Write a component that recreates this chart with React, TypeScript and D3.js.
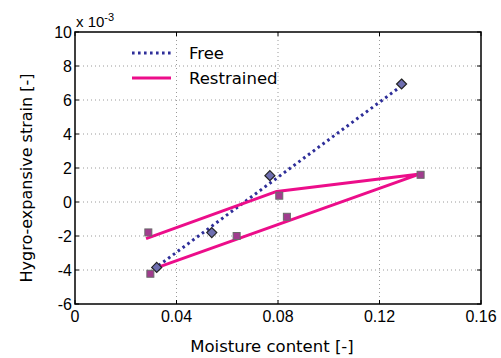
import * as d3 from "d3";

// Moisture content [-] vs hygro-expansive strain (x 10^-3)
const freeX = [0.0322, 0.0539, 0.0768, 0.1287];
const freeY = [-3.85, -1.8, 1.55, 6.94];
const freeFitX = [0.031, 0.1275];
const freeFitY = [-3.95, 6.7];

const restX = [0.0289, 0.0297, 0.0637, 0.0805, 0.0835, 0.1362];
const restY = [-1.79, -4.22, -2.0, 0.37, -0.87, 1.6];
const restPathX = [0.028, 0.0795, 0.136, 0.0315];
const restPathY = [-2.15, 0.62, 1.65, -3.9];

const xTicks = [0, 0.04, 0.08, 0.12, 0.16];
const xTickLabels = ["0", "0.04", "0.08", "0.12", "0.16"];
const yTicks = [-6, -4, -2, 0, 2, 4, 6, 8, 10];

const W = 501;
const H = 358;
const margin = { top: 32, right: 20, bottom: 54, left: 75 };

const FREE_COLOR = "#2e2e99";
const REST_COLOR = "#ec0d8a";
const FONT = "'Liberation Sans', Arial, sans-serif";
const SANS = "'DejaVu Sans', sans-serif";

export default function App() {
  const x = d3.scaleLinear().domain([0, 0.16]).range([margin.left, W - margin.right]);
  const y = d3.scaleLinear().domain([-6, 10]).range([H - margin.bottom, margin.top]);
  const [x0, x1] = x.range();
  const [y0, y1] = y.range();

  const line = d3
    .line<[number, number]>()
    .x((d) => x(d[0]))
    .y((d) => y(d[1]));

  const freeFit = freeFitX.map((v, i) => [v, freeFitY[i]] as [number, number]);
  const restPath = restPathX.map((v, i) => [v, restPathY[i]] as [number, number]);

  return (
    <div style={{ position: "absolute", left: 0, top: 0 }}>
      <svg width={W} height={H} style={{ display: "block", background: "#fff" }}>
        {/* grid */}
        {xTicks.slice(1, -1).map((t) => (
          <line key={"gx" + t} x1={x(t)} x2={x(t)} y1={y1} y2={y0}
            stroke="#9a9a9a" strokeWidth={1} strokeDasharray="1,3" />
        ))}
        {yTicks.slice(1, -1).map((t) => (
          <line key={"gy" + t} x1={x0} x2={x1} y1={y(t)} y2={y(t)}
            stroke="#9a9a9a" strokeWidth={1} strokeDasharray="1,3" />
        ))}

        {/* ticks */}
        {xTicks.map((t) => (
          <g key={"tx" + t}>
            <line x1={x(t)} x2={x(t)} y1={y0} y2={y0 - 4} stroke="#000" />
            <line x1={x(t)} x2={x(t)} y1={y1} y2={y1 + 4} stroke="#000" />
          </g>
        ))}
        {yTicks.map((t) => (
          <g key={"ty" + t}>
            <line x1={x0} x2={x0 + 4} y1={y(t)} y2={y(t)} stroke="#000" />
            <line x1={x1} x2={x1 - 4} y1={y(t)} y2={y(t)} stroke="#000" />
          </g>
        ))}

        {/* lines */}
        <path d={line(freeFit) ?? ""} fill="none" stroke={FREE_COLOR}
          strokeWidth={3} strokeDasharray="2.6,3.4" />
        <path d={line(restPath) ?? ""} fill="none" stroke={REST_COLOR}
          strokeWidth={3} strokeLinejoin="round" />

        {/* markers */}
        {freeX.map((v, i) => (
          <path key={"fm" + i}
            d={`M${x(v)},${y(freeY[i]) - 5}l5,5l-5,5l-5,-5z`}
            fill="#6e6eb0" stroke="#222" strokeWidth={1.2} />
        ))}
        {restX.map((v, i) => (
          <rect key={"rm" + i} x={x(v) - 3.5} y={y(restY[i]) - 3.5} width={7} height={7}
            fill="#a13c8e" stroke="#6a6a6a" strokeWidth={1} />
        ))}

        {/* frame */}
        <rect x={x0} y={y1} width={x1 - x0} height={y0 - y1} fill="none" stroke="#000" strokeWidth={1.5} />

        {/* tick labels */}
        {xTicks.map((t, i) => (
          <text key={"lx" + t} x={x(t)} y={y0 + 18} textAnchor="middle"
            fontFamily={FONT} fontSize={16}>{xTickLabels[i]}</text>
        ))}
        {yTicks.map((t) => (
          <text key={"ly" + t} x={x0 - 3} y={y(t) + 6} textAnchor="end"
            fontFamily={FONT} fontSize={16}>{t}</text>
        ))}
        <text x={x0 + 1} y={y1 - 5} fontFamily={FONT} fontSize={15}>
          x 10<tspan dy={-6} fontSize={11}>-3</tspan>
        </text>

        {/* legend */}
        <line x1={132} x2={171} y1={53} y2={53} stroke={FREE_COLOR} strokeWidth={3} strokeDasharray="2.6,3.4" />
        <line x1={132} x2={171} y1={78} y2={78} stroke={REST_COLOR} strokeWidth={3} />
        <text x={189} y={58.5} fontFamily={SANS} fontSize={16.5}>Free</text>
        <text x={189} y={83.5} fontFamily={SANS} fontSize={16.5}>Restrained</text>

        {/* axis titles */}
        <text x={272} y={352} textAnchor="middle" fontFamily={SANS} fontSize={16.5}>
          Moisture content [-]
        </text>
        <text transform={`translate(32,178) rotate(-90)`} textAnchor="middle"
          fontFamily={SANS} fontSize={16}>
          Hygro-expansive strain [-]
        </text>
      </svg>
    </div>
  );
}
